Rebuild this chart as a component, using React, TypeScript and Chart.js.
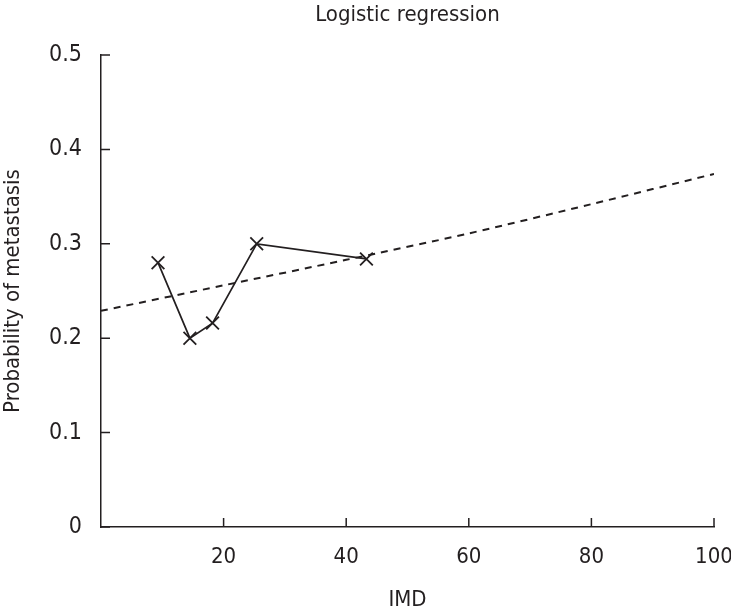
import React, { useEffect, useRef } from "react";
import { Chart, registerables } from "chart.js";

Chart.register(...registerables);

const TITLE = "Logistic regression";
const X_TITLE = "IMD";
const Y_TITLE = "Probability of metastasis";

// Observed points (IMD, probability)
const observedX = [9.3, 14.5, 18.2, 25.4, 43.3];
const observedY = [0.28, 0.2, 0.216, 0.3, 0.284];

// Fitted logistic curve read at these IMD values
const fitX = [0, 20, 40, 60, 80, 100];
const fitY = [0.229, 0.256, 0.283, 0.311, 0.342, 0.374];

const xTickValues = [20, 40, 60, 80, 100];
const yTickValues = [0, 0.1, 0.2, 0.3, 0.4, 0.5];

const INK = "#231f20";
const FONT = "'DejaVu Sans Condensed', 'Liberation Sans Narrow', 'Roboto', sans-serif";

const decorations = {
  id: "decorations",
  afterDraw(chart: any) {
    const { ctx, chartArea, scales } = chart;
    const len = 9;
    ctx.save();
    ctx.strokeStyle = INK;
    ctx.lineWidth = 1.5;
    ctx.beginPath();
    for (const v of yTickValues) {
      const y = scales.y.getPixelForValue(v);
      ctx.moveTo(chartArea.left, y);
      ctx.lineTo(chartArea.left + len, y);
    }
    for (const v of xTickValues) {
      const x = scales.x.getPixelForValue(v);
      ctx.moveTo(x, chartArea.bottom);
      ctx.lineTo(x, chartArea.bottom - len);
    }
    ctx.stroke();
    // title centred over the plot area
    ctx.fillStyle = INK;
    ctx.font = `22px ${FONT}`;
    ctx.textAlign = "center";
    ctx.textBaseline = "middle";
    ctx.fillText(TITLE, (chartArea.left + chartArea.right) / 2, 15);
    ctx.restore();
  },
};

export default function App() {
  const ref = useRef<HTMLCanvasElement>(null);
  useEffect(() => {
    if (!ref.current) return;
    const chart = new Chart(ref.current, {
      type: "scatter",
      data: {
        datasets: [
          {
            label: "fit",
            data: fitX.map((x, i) => ({ x, y: fitY[i] })),
            showLine: true,
            borderColor: INK,
            borderWidth: 2,
            borderDash: [7, 6],
            pointRadius: 0,
            tension: 0.3,
          },
          {
            label: "observed",
            data: observedX.map((x, i) => ({ x, y: observedY[i] })),
            showLine: true,
            borderColor: INK,
            borderWidth: 1.7,
            pointStyle: "crossRot",
            pointRadius: 9,
            pointBorderWidth: 1.8,
            pointBorderColor: INK,
            pointBackgroundColor: INK,
            tension: 0,
          },
        ],
      },
      options: {
        animation: false,
        responsive: false,
        devicePixelRatio: 1,
        layout: { padding: { left: 0, right: 17, top: 55, bottom: 0 } },
        plugins: {
          legend: { display: false },
          tooltip: { enabled: false },
          title: { display: false },
        },
        scales: {
          x: {
            type: "linear",
            min: 0,
            max: 100,
            afterFit: (s: any) => {
              s.height = 88;
              s.paddingLeft = 0;
              s.paddingRight = 0;
            },
            border: { display: true, color: INK, width: 1.5 },
            grid: { display: false, drawTicks: false },
            ticks: {
              stepSize: 20,
              color: INK,
              padding: 17,
              maxRotation: 0,
              font: { family: FONT, size: 22 },
              callback: (v: any) => (xTickValues.includes(Number(v)) ? String(v) : ""),
            },
            title: {
              display: true,
              text: X_TITLE,
              color: INK,
              font: { family: FONT, size: 22 },
              padding: { top: 0, bottom: 2 },
            },
          },
          y: {
            type: "linear",
            min: 0,
            max: 0.5,
            afterFit: (s: any) => {
              s.width = 101;
              s.paddingTop = 0;
              s.paddingBottom = 0;
            },
            border: { display: true, color: INK, width: 1.5 },
            grid: { display: false, drawTicks: false },
            ticks: {
              stepSize: 0.1,
              color: INK,
              padding: 19,
              font: { family: FONT, size: 23 },
              callback: (v: any) => String(Math.round(Number(v) * 10) / 10),
            },
            title: {
              display: true,
              text: Y_TITLE,
              color: INK,
              font: { family: FONT, size: 22 },
              padding: { top: 0, bottom: 0 },
            },
          },
        },
      },
      plugins: [decorations],
    });
    return () => chart.destroy();
  }, []);
  return (
    <div style={{ position: "fixed", left: 0, top: 0, width: 731, height: 615, background: "#fff" }}>
      <canvas ref={ref} width={731} height={615} style={{ width: 731, height: 615, display: "block" }} />
    </div>
  );
}
